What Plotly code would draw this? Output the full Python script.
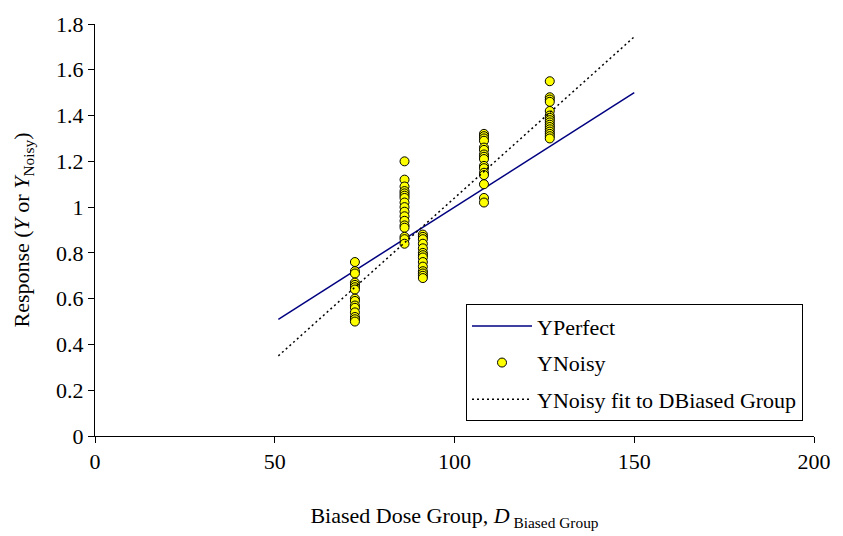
import plotly.graph_objects as go

# YPerfect line (Y = 0.01 * D)
perfect_x = [51, 150]
perfect_y = [0.51, 1.50]

# Noisy observations grouped by biased dose
group_doses = [72.3, 86.1, 91.2, 108.2, 126.5]
group_values = [
    [0.76, 0.72, 0.71, 0.67, 0.66, 0.65, 0.64, 0.60, 0.59, 0.57, 0.56, 0.54, 0.52, 0.51, 0.50],
    [1.20, 1.12, 1.09, 1.07, 1.06, 1.05, 1.04, 1.02, 1.00, 0.98, 0.96, 0.94, 0.92, 0.91, 0.87, 0.86, 0.84],
    [0.88, 0.87, 0.86, 0.84, 0.82, 0.80, 0.79, 0.78, 0.76, 0.74, 0.72, 0.71, 0.70, 0.69],
    [1.32, 1.31, 1.30, 1.29, 1.26, 1.25, 1.23, 1.22, 1.21, 1.18, 1.17, 1.15, 1.14, 1.10, 1.04, 1.02],
    [1.55, 1.48, 1.47, 1.46, 1.42, 1.40, 1.39, 1.38, 1.37, 1.36, 1.35, 1.34, 1.33, 1.32, 1.31, 1.30],
]

# Fit of YNoisy to DBiased Group
fit_x = [51, 150]
fit_y = [0.35, 1.744]

noisy_x = []
noisy_y = []
for d, vals in zip(group_doses, group_values):
    noisy_x += [d] * len(vals)
    noisy_y += vals

FONT = "Liberation Serif, Times New Roman, serif"
FS = 22

fig = go.Figure()
fig.add_trace(go.Scatter(x=perfect_x, y=perfect_y, mode="lines", name="YPerfect",
                         legendgroup="a",
                         line=dict(color="#000080", width=1.5)))
fig.add_trace(go.Scatter(x=noisy_x, y=noisy_y, mode="markers", name="YNoisy",
                         legendgroup="b",
                         marker=dict(color="#FFFF00", size=9,
                                     line=dict(color="black", width=1))))
fig.add_trace(go.Scatter(x=fit_x, y=fit_y, mode="lines", name="YNoisy fit to DBiased Group",
                         legendgroup="c",
                         line=dict(color="black", width=1.5, dash="2px,3px")))

fig.update_layout(
    width=843, height=536,
    margin=dict(l=95, r=21, t=17, b=97),
    plot_bgcolor="white", paper_bgcolor="white",
    font=dict(family=FONT, size=FS, color="black"),
    showlegend=True,
    legend=dict(x=0.516, y=0.32, xanchor="left", yanchor="top",
                bordercolor="black", borderwidth=1, bgcolor="white",
                font=dict(family=FONT, size=FS), itemwidth=60,
                tracegroupgap=5),
    xaxis=dict(range=[0, 200], tickmode="linear", tick0=0, dtick=50,
               showgrid=False, zeroline=False, showline=True, linecolor="black",
               linewidth=1, ticks="outside", ticklen=6, tickcolor="black",
               tickfont=dict(family=FONT, size=FS),
               title=dict(text="Biased Dose Group, <i>D</i><sub> Biased Group</sub>",
                          font=dict(family=FONT, size=FS), standoff=34)),
    yaxis=dict(range=[0, 1.8], tickmode="linear", tick0=0, dtick=0.2,
               showgrid=False, zeroline=False, showline=True, linecolor="black",
               linewidth=1, ticks="outside", ticklen=6, tickcolor="black",
               tickfont=dict(family=FONT, size=FS),
               title=dict(text="Response (<i>Y</i> or <i>Y</i><sub>Noisy</sub>)",
                          font=dict(family=FONT, size=FS), standoff=20)),
)

fig.write_html("out.html")
